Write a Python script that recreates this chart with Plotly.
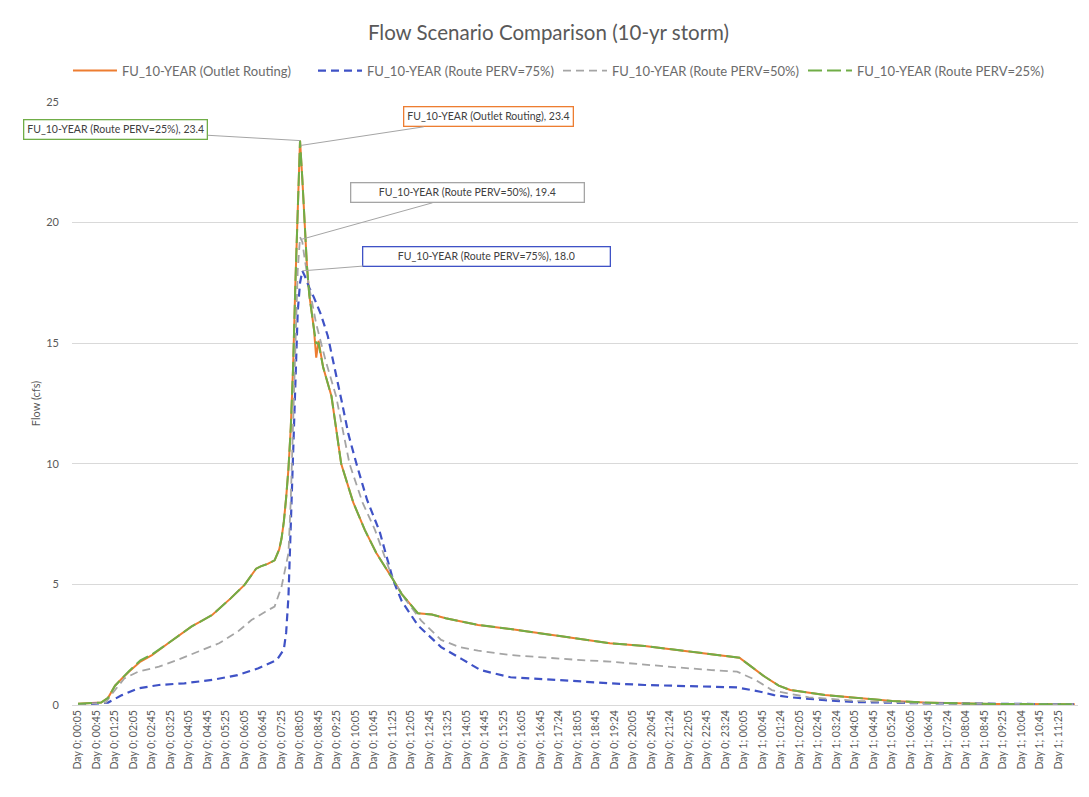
import plotly.graph_objects as go

# elapsed minutes from Day 0 00:00, flow in cfs
outlet_min = [5, 55, 70, 85, 100, 115, 140, 165, 200, 250, 295, 335, 365, 390, 400, 415, 430, 440, 445, 450,
              455, 460, 465, 470, 475, 480, 485, 490, 495, 500, 505, 510, 515, 520, 525, 535, 553, 574, 600, 625,
              650, 686, 705, 740, 770, 800, 870, 940, 1015, 1085, 1155, 1230, 1300, 1375, 1435, 1460, 1490, 1520,
              1545, 1620, 1690, 1765, 1835, 1980, 2160]
outlet_cfs = [0.05, 0.1, 0.3, 0.8, 1.1, 1.38, 1.8, 2.07, 2.56, 3.25, 3.73, 4.42, 4.98, 5.65, 5.75, 5.85, 6.0, 6.45,
              6.9, 7.6, 8.6, 9.8, 11.5, 14.0, 17.5, 21.0, 23.4, 21.8, 19.8, 18.2, 17.0, 16.2, 15.6, 14.4, 15.1, 14.0,
              12.8, 10.0, 8.4, 7.26, 6.3, 5.2, 4.6, 3.8, 3.75, 3.6, 3.32, 3.15, 2.94, 2.76, 2.56, 2.45, 2.28, 2.1,
              1.96, 1.6, 1.17, 0.8, 0.62, 0.41, 0.28, 0.17, 0.1, 0.04, 0.03]

perv25_min = outlet_min
perv25_cfs = [0.05, 0.1, 0.3, 0.8, 1.1, 1.4, 1.85, 2.1, 2.56, 3.25, 3.73, 4.42, 4.98, 5.65, 5.75, 5.85, 6.0, 6.45,
              6.9, 7.6, 8.6, 9.8, 11.5, 14.0, 17.5, 21.0, 23.4, 21.8, 19.8, 18.2, 17.0, 16.2, 15.6, 15.0, 15.0, 14.0,
              12.8, 10.0, 8.4, 7.26, 6.3, 5.2, 4.6, 3.8, 3.75, 3.6, 3.32, 3.15, 2.94, 2.76, 2.56, 2.45, 2.28, 2.1,
              1.96, 1.6, 1.17, 0.8, 0.62, 0.41, 0.28, 0.17, 0.1, 0.04, 0.03]

perv50_min = [5, 65, 80, 105, 135, 180, 220, 265, 310, 350, 380, 410, 430, 445, 460, 465, 470, 475, 480, 485,
              490, 495, 505, 520, 540, 563, 592, 620, 647, 686, 712, 747, 790, 830, 870, 940, 1015, 1085, 1155, 1230,
              1300, 1375, 1430, 1470, 1505, 1520, 1585, 1690, 1835, 2160]
perv50_cfs = [0.02, 0.1, 0.5, 1.1, 1.38, 1.59, 1.87, 2.2, 2.56, 3.04, 3.52, 3.87, 4.08, 4.9, 6.3, 8.5, 11.5, 15.0,
              18.0, 19.4, 19.2, 18.5, 17.3, 15.8, 14.3, 12.8, 10.0, 8.4, 7.26, 5.2, 4.4, 3.5, 2.7, 2.4, 2.25, 2.07,
              1.96, 1.87, 1.8, 1.66, 1.56, 1.45, 1.38, 1.04, 0.62, 0.55, 0.32, 0.17, 0.07, 0.03]

perv75_min = [5, 70, 100, 135, 180, 235, 295, 350, 395, 435, 450, 455, 460, 465, 470, 475, 480, 485, 490, 495,
              505, 515, 530, 545, 560, 575, 590, 607, 630, 657, 686, 705, 740, 790, 835, 875, 905, 940, 1015, 1085,
              1155, 1230, 1300, 1375, 1430, 1480, 1510, 1545, 1620, 1690, 1835, 2160]
perv75_cfs = [0.0, 0.1, 0.41, 0.69, 0.83, 0.9, 1.04, 1.24, 1.52, 1.87, 2.3, 3.0, 4.5, 7.5, 11.0, 14.0, 16.3, 17.5,
              18.0, 17.8, 17.3, 16.9, 16.2, 15.3, 14.0, 12.6, 11.2, 10.0, 8.5, 7.2, 5.2, 4.3, 3.3, 2.4, 1.9, 1.45,
              1.31, 1.15, 1.07, 0.97, 0.9, 0.83, 0.79, 0.76, 0.73, 0.55, 0.41, 0.32, 0.2, 0.12, 0.07, 0.03]

tick_min = [5 + 40 * i for i in range(54)]
tick_text = [
    "Day 0; 00:05", "Day 0; 00:45", "Day 0; 01:25", "Day 0; 02:05", "Day 0; 02:45", "Day 0; 03:25",
    "Day 0; 04:05", "Day 0; 04:45", "Day 0; 05:25", "Day 0; 06:05", "Day 0; 06:45", "Day 0; 07:25",
    "Day 0; 08:05", "Day 0; 08:45", "Day 0; 09:25", "Day 0; 10:05", "Day 0; 10:45", "Day 0; 11:25",
    "Day 0; 12:05", "Day 0; 12:45", "Day 0; 13:25", "Day 0; 14:05", "Day 0; 14:45", "Day 0; 15:25",
    "Day 0; 16:05", "Day 0; 16:45", "Day 0; 17:24", "Day 0; 18:05", "Day 0; 18:45", "Day 0; 19:24",
    "Day 0; 20:05", "Day 0; 20:45", "Day 0; 21:24", "Day 0; 22:05", "Day 0; 22:45", "Day 0; 23:24",
    "Day 1; 00:05", "Day 1; 00:45", "Day 1; 01:24", "Day 1; 02:05", "Day 1; 02:45", "Day 1; 03:24",
    "Day 1; 04:05", "Day 1; 04:45", "Day 1; 05:24", "Day 1; 06:05", "Day 1; 06:45", "Day 1; 07:24",
    "Day 1; 08:04", "Day 1; 08:45", "Day 1; 09:25", "Day 1; 10:04", "Day 1; 10:45", "Day 1; 11:25",
]

FONT = "Lato, 'Open Sans', sans-serif"
ORANGE, BLUE, GREY, GREEN = "#ED7D31", "#3F52C6", "#A5A5A5", "#70AD47"

series = [
    ("FU_10-YEAR (Outlet Routing)", outlet_min, outlet_cfs, ORANGE, "solid", 2),
    ("FU_10-YEAR (Route PERV=75%)", perv75_min, perv75_cfs, BLUE, "8px,5px", 2.2),
    ("FU_10-YEAR (Route PERV=50%)", perv50_min, perv50_cfs, GREY, "8px,5px", 1.8),
    ("FU_10-YEAR (Route PERV=25%)", perv25_min, perv25_cfs, GREEN, "14px,5px", 2),
]

fig = go.Figure()
for name, xs, ys, color, dash, width in series:
    fig.add_trace(go.Scatter(x=xs, y=ys, mode="lines", name=name,
                             line=dict(color=color, dash=dash, width=width)))

# peak data labels: (text, peak x, peak y, label x, label y, border colour, box width)
labels = [
    ("FU_10-YEAR (Route PERV=25%), 23.4", 485, 23.4, 87, 23.84, GREEN, None),
    ("FU_10-YEAR (Outlet Routing), 23.4", 487, 23.2, 893, 24.38, ORANGE, None),
    ("FU_10-YEAR (Route PERV=50%), 19.4", 487, 19.3, 848, 21.23, GREY, 226),
    ("FU_10-YEAR (Route PERV=75%), 18.0", 490, 18.0, 889, 18.6, BLUE, 240),
]
for text, px, py, tx, ty, color, w in labels:
    fig.add_annotation(x=px, y=py, ax=tx, ay=ty, axref="x", ayref="y", text=text, width=w,
                       showarrow=True, arrowhead=0, arrowwidth=1, arrowcolor="#A5A5A5",
                       bordercolor=color, borderwidth=1.3, borderpad=3, bgcolor="white",
                       font=dict(family=FONT, size=10.5, color="#404040"))

# the page body adds an 8px offset, so the figure is 8px smaller than the window
fig.update_layout(
    width=1081, height=789,
    margin=dict(l=64, r=11, t=94, b=92),
    paper_bgcolor="white", plot_bgcolor="white",
    font=dict(family=FONT, color="#595959"),
    title=dict(text="Flow Scenario Comparison (10-yr storm)", x=0.5, xanchor="center",
               y=0.968, yanchor="middle", font=dict(size=20.5, color="#595959")),
    legend=dict(orientation="h", x=-0.004, xanchor="left", y=1.052, yanchor="middle",
                font=dict(size=13, color="#6b6b6b"), itemwidth=44,
                entrywidth=186, entrywidthmode="pixels"),
    showlegend=True,
)
fig.update_xaxes(range=[-8, 2167], tickmode="array", tickvals=tick_min, ticktext=tick_text,
                 tickangle=-90, tickfont=dict(size=10.5, color="#595959"), showgrid=False,
                 showline=True, linecolor="#D9D9D9", zeroline=False, ticks="")
fig.update_yaxes(range=[0, 25], dtick=5, showgrid=True, gridcolor="#D9D9D9", zeroline=False,
                 tickfont=dict(size=11, color="#595959"), ticks="", ticklabelstandoff=12,
                 title=dict(text="Flow (cfs)", font=dict(size=11, color="#595959"), standoff=3))

fig.write_html("out.html")
